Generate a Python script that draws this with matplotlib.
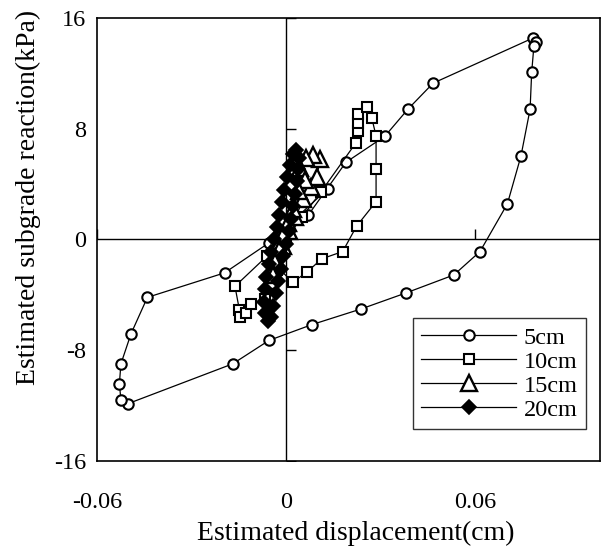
import matplotlib
matplotlib.use("Agg")
import matplotlib.pyplot as plt

plt.rcParams['font.family'] = ['Liberation Serif', 'DejaVu Serif']

# 5cm loop (circles)
x_5cm = [0.0070, 0.0190, 0.0314, 0.0387, 0.0467, 0.0784, 0.0793, 0.0787,
         0.0780, 0.0775, 0.0746, 0.0703, 0.0616, 0.0533, 0.0381, 0.0238,
         0.0082, -0.0054, -0.0169, -0.0503, -0.0524, -0.0529, -0.0524,
         -0.0492, -0.0440, -0.0195, -0.0054, 0.0133]
y_5cm = [1.74, 5.57, 7.46, 9.41, 11.29, 14.55, 14.24, 13.95,
         12.07, 9.41, 6.03, 2.58, -0.87, -2.56, -3.86, -5.02,
         -6.15, -7.29, -8.98, -11.87, -11.58, -10.43, -8.98,
         -6.81, -4.18, -2.41, -0.24, 3.67]

# 10cm loop (squares)
x_10cm = [0.0000, 0.0050, 0.0110, 0.0221, 0.0230, 0.0230, 0.0230, 0.0256,
          0.0272, 0.0286, 0.0286, 0.0286, 0.0224, 0.0180, 0.0113, 0.0066,
          0.0021, -0.0061, -0.0162, -0.0148, -0.0146, -0.0128, -0.0111,
          -0.0067, -0.0030]
y_10cm = [0.00, 1.60, 3.40, 6.95, 7.84, 8.45, 9.05, 9.54,
          8.81, 7.48, 5.07, 2.73, 0.96, -0.87, -1.40, -2.37,
          -3.09, -1.21, -3.38, -5.07, -5.60, -5.31, -4.63,
          -4.30, -2.20]

# 15cm loop (triangles)
x_15cm = [-0.0030, -0.0010, 0.0010, 0.0030, 0.0055, 0.0080, 0.0098, 0.0108,
          0.0085, 0.0065, 0.0045, 0.0060, 0.0040, 0.0022, 0.0005, -0.0010,
          -0.0020, -0.0035, -0.0045, -0.0052, -0.0040]
y_15cm = [-1.60, -0.50, 0.60, 1.60, 2.90, 3.80, 4.50, 5.80,
          6.10, 5.90, 5.20, 4.30, 3.50, 2.20, 1.20, 0.30,
          -0.60, -1.60, -2.30, -3.00, -2.60]

# 20cm loop (diamonds)
x_20cm = [-0.0048, -0.0040, -0.0033, -0.0025, -0.0016, -0.0008, 0.0000,
          0.0008, 0.0016, 0.0022, 0.0028, 0.0034, 0.0038, 0.0040, 0.0032,
          0.0022, 0.0012, 0.0003, -0.0006, -0.0014, -0.0022, -0.0030,
          -0.0038, -0.0046, -0.0054, -0.0062, -0.0068, -0.0070, -0.0068,
          -0.0058]
y_20cm = [-5.6, -4.8, -3.9, -3.0, -2.1, -1.2, -0.3,
          0.6, 1.5, 2.4, 3.3, 4.2, 5.1, 5.9, 6.5,
          6.2, 5.4, 4.5, 3.6, 2.7, 1.8, 0.9,
          0.0, -0.9, -1.8, -2.7, -3.6, -4.5, -5.3,
          -5.9]

x_ticks = [-0.06, 0, 0.06]
x_tick_labels = ['-0.06', '0', '0.06']
y_ticks = [-16, -8, 0, 8, 16]
y_tick_labels = ['-16', '-8', '0', '8', '16']

fig = plt.figure(figsize=(6.07, 5.5), dpi=100)
ax = fig.add_axes([0.1598, 0.1618, 0.8287, 0.8055])

ax.axhline(0, color='black', lw=1.0, zorder=1)
ax.axvline(0, color='black', lw=1.0, zorder=1)

# small tick marks sit on the zero lines
ax.plot([t for t in x_ticks if t != 0], [0] * 2, ls='none', marker=2,
        ms=7, mew=1.0, color='black', zorder=1)
ax.plot([0] * 4, [t for t in y_ticks if t != 0], ls='none', marker=1,
        ms=7, mew=1.0, color='black', zorder=1)

ax.plot(x_5cm, y_5cm, color='black', lw=0.9, marker='o', ms=7.5,
        mfc='white', mec='black', mew=1.5, label='5cm', zorder=3)
ax.plot(x_10cm, y_10cm, color='black', lw=0.9, marker='s', ms=7,
        mfc='white', mec='black', mew=1.5, label='10cm', zorder=4)
ax.plot(x_15cm, y_15cm, color='black', lw=0.9, marker='^', ms=11,
        mfc='white', mec='black', mew=1.7, label='15cm', zorder=5)
ax.plot(x_20cm, y_20cm, color='black', lw=0.9, marker='D', ms=7.5,
        mfc='black', mec='black', mew=1.2, label='20cm', zorder=6)

ax.set_xlim(-0.06, 0.0997)
ax.set_ylim(-16, 16)
ax.set_xticks(x_ticks)
ax.set_xticklabels(x_tick_labels)
ax.set_yticks(y_ticks)
ax.set_yticklabels(y_tick_labels)
ax.tick_params(axis='both', length=0, labelsize=17.5)
ax.tick_params(axis='x', pad=22)
ax.tick_params(axis='y', pad=8)

for s in ax.spines.values():
    s.set_linewidth(1.2)
    s.set_color('black')

ax.set_xlabel('Estimated displacement(cm)', fontsize=20)
ax.set_ylabel('Estimated subgrade reaction(kPa)', fontsize=20)
ax.xaxis.set_label_coords(0.515, -0.135)
ax.yaxis.set_label_coords(-0.112, 0.594)

leg = ax.legend(loc='lower right', bbox_to_anchor=(0.972, 0.072),
                fontsize=17.5, frameon=True, fancybox=False,
                handlelength=3.9, handletextpad=0.3, labelspacing=0.08,
                borderpad=0.35, borderaxespad=0)
leg.get_frame().set_edgecolor('black')
leg.get_frame().set_linewidth(1.0)

fig.savefig('out.png', dpi=100)
